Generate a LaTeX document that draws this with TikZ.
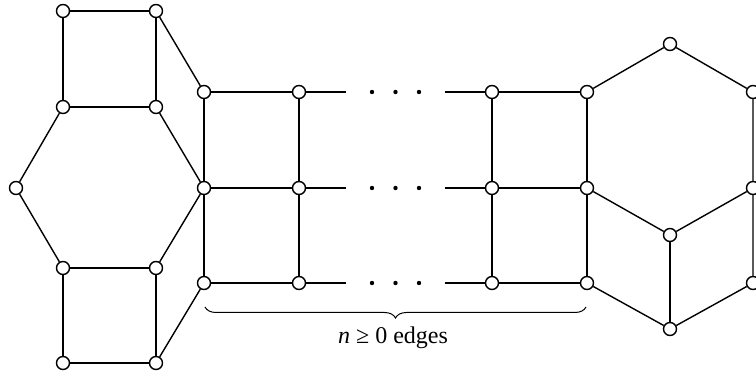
\documentclass[tikz,border=0pt]{standalone}
\usepackage{fontspec}
\setmainfont{Liberation Serif}
\usetikzlibrary{decorations.pathreplacing}

\begin{document}
\begin{tikzpicture}[x=0.5pt, y=-0.5pt, line width=0.7pt, vert/.style={circle, draw=black, fill=white, inner sep=0pt, minimum size=6.5pt}, gap/.style={draw=none, fill=none, inner sep=0pt, minimum width=48.5pt, minimum height=4pt}, edgebrace/.style={decorate, decoration={brace, mirror, amplitude=5.5pt}}]

    \useasboundingbox (0,0) rectangle (756,373);

    %Nodes
    \node[vert](a1) at (63,11){};
    \node[vert](a2) at (156,11){};
    \node[vert](a3) at (63,107){};
    \node[vert](a4) at (156,107){};
    \node[vert](a5) at (16,188){};
    \node[vert](a7) at (63,268){};
    \node[vert](a8) at (156,268){};
    \node[vert](a9) at (63,363){};
    \node[vert](a10) at (156,363){};

    \node[vert](m11) at (204,92){};
    \node[vert](m21) at (204,188){};
    \node[vert](m31) at (204,283){};
    \node[vert](m12) at (299,92){};
    \node[vert](m22) at (299,188){};
    \node[vert](m32) at (299,283){};
    \node[gap](g1) at (395.5,92){};
    \node[gap](g2) at (395.5,188){};
    \node[gap](g3) at (395.5,283){};
    \node[vert](m13) at (492,92){};
    \node[vert](m23) at (492,188){};
    \node[vert](m33) at (492,283){};
    \node[vert](m14) at (587,92){};
    \node[vert](m24) at (587,188){};
    \node[vert](m34) at (587,283){};

    \node[vert](r1) at (670,44){};
    \node[vert](r2) at (753,92){};
    \node[vert](r3) at (753,188){};
    \node[vert](r4) at (670,235){};
    \node[vert](r5) at (753,283){};
    \node[vert](r6) at (670,329){};

    \foreach \g in {g1,g2,g3}
        \foreach \s in {-11.75pt,0pt,11.75pt}
            \fill ([xshift=\s]\g.center) circle (1.1pt);

    \coordinate (brace_l) at (205,307);
    \coordinate (brace_r) at (586,307);
    \node[font=\fontsize{12pt}{14pt}\selectfont](edges_label) at (393,338){\textit{n} ≥ 0 edges};

    %Lines
    \draw (a1) -- (a2);
    \draw (a1) -- (a3);
    \draw (a2) -- (a4);
    \draw (a3) -- (a4);
    \draw (a3) -- (a5);
    \draw (a5) -- (a7);
    \draw (a7) -- (a8);
    \draw (a4) -- (m21);
    \draw (a8) -- (m21);
    \draw (a7) -- (a9);
    \draw (a8) -- (a10);
    \draw (a9) -- (a10);
    \draw (a2) -- (m11);
    \draw (a10) -- (m31);

    \draw (m11) -- (m12) -- (g1);
    \draw (g1) -- (m13) -- (m14);
    \draw (m21) -- (m22) -- (g2);
    \draw (g2) -- (m23) -- (m24);
    \draw (m31) -- (m32) -- (g3);
    \draw (g3) -- (m33) -- (m34);
    \draw (m11) -- (m21) -- (m31);
    \draw (m12) -- (m22) -- (m32);
    \draw (m13) -- (m23) -- (m33);
    \draw (m14) -- (m24) -- (m34);

    \draw (m14) -- (r1) -- (r2) -- (r3) -- (r4) -- (m24);
    \draw (r3) -- (r5) -- (r6) -- (m34);
    \draw (r4) -- (r6);

    \draw[edgebrace, line width=0.5pt] (brace_l) -- (brace_r);

\end{tikzpicture}
\end{document}
